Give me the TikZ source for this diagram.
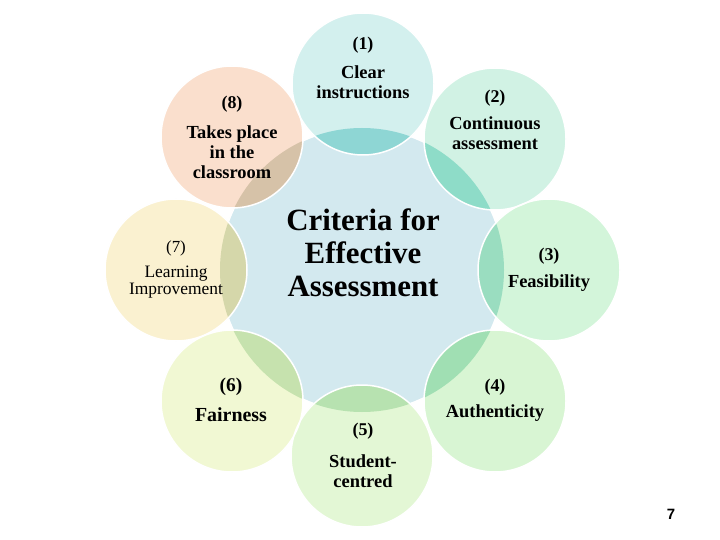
\documentclass[tikz,border=0pt]{standalone}
\usepackage{fontspec}
\setmainfont{Liberation Serif}
\newfontfamily\pagenumfont{Liberation Sans}
\definecolor{cc}{HTML}{D3E9EF}
\definecolor{s1}{HTML}{D3F0EE}\definecolor{o1}{HTML}{8ED6D4}
\definecolor{s2}{HTML}{D1F2E4}\definecolor{o2}{HTML}{8EDCC8}
\definecolor{s3}{HTML}{D3F5DA}\definecolor{o3}{HTML}{9ADDC0}
\definecolor{s4}{HTML}{D8F5D3}\definecolor{o4}{HTML}{A0DFB3}
\definecolor{s5}{HTML}{E3F7D5}\definecolor{o5}{HTML}{B7E2B0}
\definecolor{s6}{HTML}{F1F8D3}\definecolor{o6}{HTML}{C6E2AE}
\definecolor{s7}{HTML}{FAF1D0}\definecolor{o7}{HTML}{D5D7AA}
\definecolor{s8}{HTML}{FADFCD}\definecolor{o8}{HTML}{D6C2A8}
\tikzset{
  numlbl/.style={font=\fontsize{18}{20}\selectfont\bfseries, inner sep=0pt},
  txtlbl/.style={font=\fontsize{18.5}{20}\selectfont\bfseries, align=center, inner sep=0pt},
  rimline/.style={draw=white, line width=1.5bp}
}
\begin{document}
\begin{tikzpicture}[x=1bp,y=-1bp]
\useasboundingbox (0,0) rectangle (720,540);
\coordinate (C) at (362,270);
\coordinate (c1) at (363,84);
\coordinate (c2) at (495,139);
\coordinate (c3) at (549,270);
\coordinate (c4) at (495,401);
\coordinate (c5) at (362,456);
\coordinate (c6) at (232,401);
\coordinate (c7) at (176,270);
\coordinate (c8) at (232,137);
% central circle
\fill[cc] (C) circle (142);
\draw[rimline] (C) circle (142);
% satellites
\foreach \i in {1,...,8}{
  \fill[s\i] (c\i) circle (71);
}
\foreach \i in {1,...,8}{
  \begin{scope}
    \clip (C) circle (142);
    \fill[o\i] (c\i) circle (71);
  \end{scope}
}
\foreach \i in {1,...,8}{
  \draw[rimline] (c\i) circle (71);
}
% texts
\node[numlbl] (n1) at (363,45) {(1)};
\node[txtlbl] (t1) at (363,82) {Clear\\instructions};
\node[numlbl] (n2) at (495,98) {(2)};
\node[txtlbl] (t2) at (495,133) {Continuous\\assessment};
\node[numlbl] (n3) at (549,256) {(3)};
\node[txtlbl] (t3) at (549,283) {Feasibility};
\node[numlbl] (n4) at (495,387) {(4)};
\node[txtlbl] (t4) at (495,413) {Authenticity};
\node[numlbl] (n5) at (363,431) {(5)};
\node[txtlbl] (t5) at (363,471) {Student-\\centred};
\node[numlbl, font=\fontsize{19.5}{20}\selectfont\bfseries] (n6) at (231,387) {(6)};
\node[txtlbl, font=\fontsize{20}{20}\selectfont\bfseries] (t6) at (231,415) {Fairness};
\node[numlbl, font=\fontsize{17}{18}\selectfont] (n7) at (176,248) {(7)};
\node[txtlbl, font=\fontsize{17.5}{17}\selectfont] (t7) at (176,282) {Learning\\Improvement};
\node[numlbl] (n8) at (232,104) {(8)};
\node[txtlbl] (t8) at (232,152) {Takes place\\in the\\classroom};
\node[txtlbl, font=\fontsize{31}{33}\selectfont\bfseries] (ct) at (363,253) {Criteria for\\Effective\\Assessment};
\node[font=\pagenumfont\fontsize{15}{18}\selectfont\bfseries, inner sep=0pt] (pg) at (671,514) {7};
\end{tikzpicture}
\end{document}
